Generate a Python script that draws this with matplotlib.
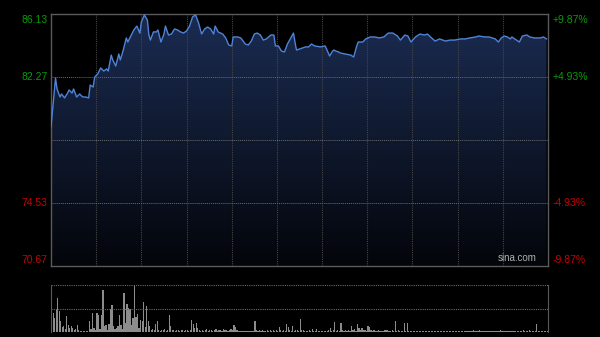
import numpy as np
import matplotlib.pyplot as plt
from matplotlib.colors import LinearSegmentedColormap

# Intraday price (minute index from open, price)
price_minutes = [0, 3, 4, 6, 7, 9, 11, 12, 14, 15, 17, 19, 21, 23, 25, 26, 28, 29, 31, 33,
                 35, 37, 38, 40, 41, 43, 45, 46, 48, 50, 51, 53, 55, 57, 59, 60, 62, 64, 65, 66,
                 68, 70, 71, 73, 75, 76, 78, 80, 82, 84, 86, 88, 90, 92, 94, 96, 98, 100, 102, 104,
                 106, 108, 109, 111, 114, 116, 118, 120, 121, 124, 126, 129, 131, 133, 135, 137, 139, 141, 143, 146,
                 148, 149, 151, 153, 155, 157, 161, 162, 163, 165, 169, 171, 173, 175, 179, 182, 183, 185, 187, 188,
                 189, 191, 192, 195, 199, 201, 203, 204, 207, 209, 212, 215, 218, 221, 224, 227, 230, 232, 235, 237,
                 239, 242, 245, 248, 250, 252, 255, 258, 262, 265, 268, 272, 275, 278, 282, 284, 288, 291, 295, 297,
                 299, 301, 303, 305, 306, 309, 311, 313, 316, 318, 321, 325, 327, 329]
price_values = [79.20, 82.20, 81.53, 81.04, 81.22, 80.98, 81.28, 81.47, 81.28, 81.53, 81.04, 81.22, 81.04, 81.04, 80.98, 81.77, 81.65, 82.26, 82.45, 82.82,
                82.63, 82.76, 82.63, 83.61, 83.31, 82.94, 83.68, 83.31, 83.92, 84.66, 84.41, 84.78, 85.15, 85.39, 84.96, 85.64, 86.07, 85.76, 84.84, 84.53,
                85.03, 85.03, 85.15, 84.41, 84.90, 85.39, 84.84, 84.90, 85.21, 85.15, 85.03, 84.96, 85.09, 85.39, 85.95, 86.07, 85.58, 84.90, 85.21, 85.33,
                85.21, 84.90, 85.39, 85.03, 84.90, 84.66, 84.23, 84.17, 84.72, 84.72, 84.66, 84.29, 84.23, 84.47, 84.90, 84.96, 84.84, 84.53, 84.60, 84.84,
                84.84, 84.17, 84.17, 83.86, 83.80, 84.29, 84.96, 84.41, 83.92, 83.98, 84.11, 84.11, 84.29, 84.17, 84.11, 84.17, 83.98, 83.55, 83.86, 83.92,
                83.86, 83.80, 83.74, 83.68, 83.61, 83.49, 84.17, 84.41, 84.41, 84.60, 84.72, 84.72, 84.66, 84.72, 84.96, 84.96, 84.78, 84.53, 84.84, 84.78,
                84.41, 84.72, 84.90, 84.84, 84.90, 84.72, 84.47, 84.60, 84.47, 84.53, 84.53, 84.60, 84.60, 84.66, 84.72, 84.78, 84.72, 84.72, 84.60, 84.41,
                84.66, 84.78, 84.72, 84.60, 84.72, 84.53, 84.41, 84.78, 84.84, 84.72, 84.66, 84.66, 84.72, 84.60]

# Volume per minute (relative units)
volumes = [10, 41, 30, 49, 73, 45, 24, 10, 12, 6,
           34, 15, 8, 12, 8, 5, 6, 15, 5, 3,
           3, 2, 3, 3, 2, 23, 6, 41, 8, 5,
           40, 36, 6, 36, 89, 12, 14, 5, 16, 50,
           57, 12, 6, 8, 12, 36, 14, 6, 84, 19,
           60, 51, 48, 14, 29, 100, 32, 39, 8, 26,
           23, 64, 10, 56, 23, 12, 5, 6, 5, 18,
           23, 5, 3, 5, 4, 6, 3, 5, 36, 12,
           4, 5, 3, 5, 4, 3, 5, 4, 3, 5,
           4, 3, 5, 26, 16, 8, 20, 8, 4, 3,
           5, 3, 4, 6, 3, 4, 5, 3, 4, 6,
           3, 5, 4, 3, 6, 4, 5, 3, 4, 6,
           5, 15, 10, 4, 3, 2, 3, 2, 3, 2,
           3, 2, 3, 2, 3, 23, 4, 3, 4, 3,
           4, 3, 3, 4, 3, 4, 3, 4, 3, 4,
           3, 10, 4, 3, 4, 3, 16, 10, 4, 3,
           12, 3, 4, 5, 3, 27, 4, 5, 3, 3,
           3, 4, 3, 6, 3, 3, 6, 3, 2, 3,
           2, 3, 2, 3, 4, 8, 3, 4, 22, 3,
           4, 3, 19, 4, 3, 4, 3, 4, 3, 12,
           4, 6, 3, 16, 8, 4, 8, 5, 4, 3,
           12, 10, 4, 3, 4, 3, 3, 4, 3, 3,
           3, 4, 4, 4, 3, 3, 5, 3, 23, 3,
           4, 3, 3, 3, 20, 3, 20, 3, 3, 2,
           2, 3, 2, 2, 3, 2, 3, 2, 2, 3,
           2, 3, 2, 2, 3, 2, 2, 3, 2, 2,
           3, 2, 2, 3, 2, 3, 2, 2, 3, 2,
           2, 3, 2, 2, 3, 2, 3, 2, 2, 3,
           4, 3, 2, 3, 4, 3, 2, 2, 3, 2,
           2, 3, 2, 2, 3, 2, 3, 2, 5, 3,
           3, 2, 2, 3, 2, 2, 3, 2, 2, 3,
           2, 3, 2, 4, 3, 2, 3, 5, 3, 2,
           3, 2, 16, 3, 2, 3, 2, 3, 2, 3]

price_ticks = [86.13, 82.27, 78.40, 74.53, 70.67]
price_labels = ['86.13', '82.27', '', '74.53', '70.67']
pct_labels = ['+9.87%', '+4.93%', '', '-4.93%', '-9.87%']
label_colors = ['#0a9a0a', '#0a9a0a', '#888888', '#c80000', '#c80000']

total_minutes = 330
plt.rcParams['font.family'] = ['Liberation Sans', 'DejaVu Sans']

fig = plt.figure(figsize=(6, 3.37), dpi=100, facecolor='black')
ax = fig.add_axes([0.085, 0.2107, 0.8283, 0.7478], facecolor='black')
axv = fig.add_axes([0.085, 0.0148, 0.8283, 0.1395], facecolor='black')

ymin, ymax = price_ticks[-1], price_ticks[0]
ax.set_xlim(0, total_minutes)
ax.set_ylim(ymin, ymax)

# gradient fill under the line
cmap = LinearSegmentedColormap.from_list('fill', ['#03050a', '#1b2c52'])
grad = np.linspace(0, 1, 256).reshape(-1, 1)
img = ax.imshow(grad, cmap=cmap, aspect='auto', origin='lower',
                extent=[0, total_minutes, ymin, max(price_values)], zorder=1)
poly = ax.fill_between(price_minutes, price_values, ymin, color='none', lw=0)
clip = poly.get_paths()[0]
img.set_clip_path(clip, transform=ax.transData)

ax.plot(price_minutes, price_values, color='#4f83d6', lw=1.0, zorder=3)

# grid
for m in range(30, total_minutes, 30):
    ax.axvline(m, color='#454545', lw=0.8, ls=(0, (1, 1)), zorder=2)
for p in price_ticks[1:-1]:
    ax.axhline(p, color='#6a6a6a', lw=0.7, ls=(0, (1, 1)), zorder=2)

ax.set_xticks([])
ax.set_yticks([])
for s in ax.spines.values():
    s.set_color('#5a5a5a')
    s.set_linewidth(1.0)

# price / percent labels
for p, lab, pct, c in zip(price_ticks, price_labels, pct_labels, label_colors):
    va = 'center'
    yy = p
    if p == ymax:
        va = 'top'
        yy = p - 0.05
    elif p == ymin:
        va = 'bottom'
        yy = p + 0.05
    ax.text(-0.007, yy, lab, transform=ax.get_yaxis_transform(), ha='right', va=va,
            color=c, fontsize=7.5)
    ax.text(1.01, yy, pct, transform=ax.get_yaxis_transform(), ha='left', va=va,
            color=c, fontsize=7.5)

ax.text(0.978, 0.012, 'sina.com', transform=ax.transAxes, ha='right', va='bottom',
        color='#b0b0b0', fontsize=7)

# volume panel
axv.bar(np.arange(len(volumes)) + 0.5, volumes, width=0.8, color='#8c8c8c', lw=0)
axv.set_xlim(0, total_minutes)
axv.set_ylim(0, max(volumes))
axv.axhline(max(volumes), color='#6a6a6a', lw=0.8, ls=(0, (1, 1)))
axv.axhline(max(volumes) / 2, color='#6a6a6a', lw=0.8, ls=(0, (1, 1)))
axv.set_xticks([])
axv.set_yticks([])
for side in ['top', 'bottom']:
    axv.spines[side].set_visible(False)
for side in ['left', 'right']:
    axv.spines[side].set_color('#5a5a5a')

fig.savefig('out.png', dpi=100, facecolor='black')
